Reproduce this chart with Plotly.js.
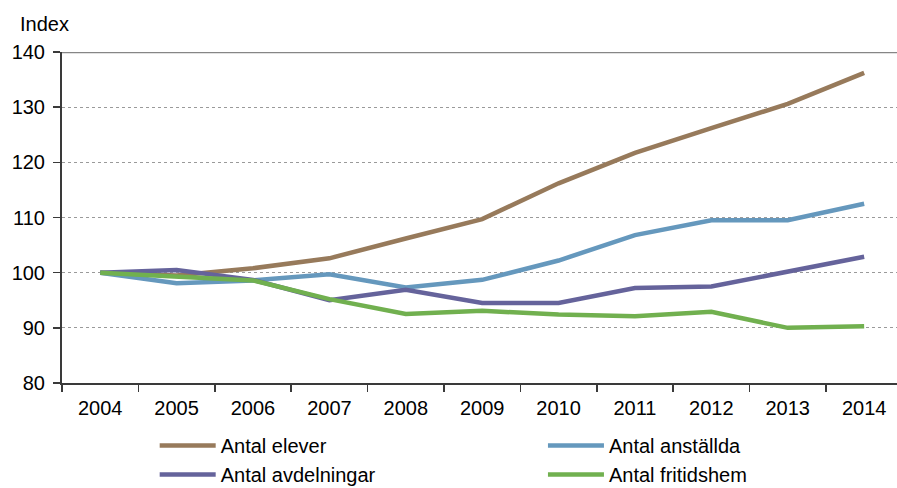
<!DOCTYPE html>
<html>
<head>
<meta charset="utf-8">
<script src="https://cdn.plot.ly/plotly-3.0.1.min.js"></script>
<style>html,body{margin:0;padding:0;background:#fff;}#chart{width:897px;height:488px;}</style>
</head>
<body>
<div id="chart"></div>
<script>
const years = ['2004','2005','2006','2007','2008','2009','2010','2011','2012','2013','2014'];
const elever      = [100, 99.5, 100.8, 102.6, 106.2, 109.7, 116.2, 121.7, 126.2, 130.6, 136.2];
const anstallda   = [100, 98.1, 98.6, 99.7, 97.3, 98.7, 102.2, 106.8, 109.5, 109.5, 112.5];
const avdelningar = [100, 100.5, 98.7, 95.0, 96.9, 94.5, 94.5, 97.2, 97.5, 100.2, 102.9];
const fritidshem  = [100, 99.2, 98.6, 95.2, 92.5, 93.1, 92.4, 92.1, 92.9, 90.0, 90.3];
const seriesNames = ['Antal elever','Antal anställda','Antal avdelningar','Antal fritidshem'];
const seriesColors = ['#977a5b','#6598bd','#65639b','#71b04f'];
const seriesData = [elever, anstallda, avdelningar, fritidshem];
const seriesLegend = ['legend','legend2','legend','legend2'];
const yTicks = [80, 90, 100, 110, 120, 130, 140];

const traces = seriesData.map((vals, i) => ({
  x: years, y: vals, type: 'scatter', mode: 'lines', name: seriesNames[i],
  legend: seriesLegend[i],
  line: {color: seriesColors[i], width: 4.5}
}));

const font = {family: 'Liberation Sans, Arial, sans-serif', size: 20, color: '#000'};
const legendBase = {orientation: 'v', xanchor: 'left', y: -0.13, yanchor: 'top',
  itemwidth: 56, font: font, bgcolor: 'rgba(0,0,0,0)', tracegroupgap: 0, traceorder: 'normal'};
const layout = {
  width: 897, height: 488,
  margin: {l: 62, r: 0, t: 52, b: 105, autoexpand: false},
  paper_bgcolor: '#fff', plot_bgcolor: '#fff',
  font: font,
  showlegend: true,
  legend: Object.assign({}, legendBase, {x: 0.111}),
  legend2: Object.assign({}, legendBase, {x: 0.576}),
  xaxis: {type: 'category', range: [-0.5, 10.43], showgrid: false, zeroline: false,
          showline: true, linecolor: '#3a3a3a', linewidth: 2,
          ticks: 'outside', tickson: 'boundaries', ticklen: 7, tickwidth: 1.5, tickcolor: '#3a3a3a',
          ticklabelstandoff: 6, tickfont: font, fixedrange: true},
  yaxis: {range: [80, 140], tickvals: yTicks, showgrid: true, gridcolor: '#9a9a9a', gridwidth: 1,
          griddash: 'dot', zeroline: false, showline: true, linecolor: '#3a3a3a', linewidth: 2,
          ticks: 'outside', ticklen: 7, tickwidth: 1.5, tickcolor: '#3a3a3a',
          ticklabelstandoff: 4, tickfont: font, fixedrange: true},
  shapes: [{type: 'line', xref: 'paper', x0: 0, x1: 1, yref: 'y', y0: 140, y1: 140,
            line: {color: '#868686', width: 2.5}}],
  annotations: [{text: 'Index', xref: 'paper', yref: 'paper', x: -0.053, y: 1.0, yshift: 28,
                 xanchor: 'left', yanchor: 'middle', showarrow: false, font: font}]
};
Plotly.newPlot('chart', traces, layout, {displayModeBar: false, staticPlot: true});
</script>
</body>
</html>
